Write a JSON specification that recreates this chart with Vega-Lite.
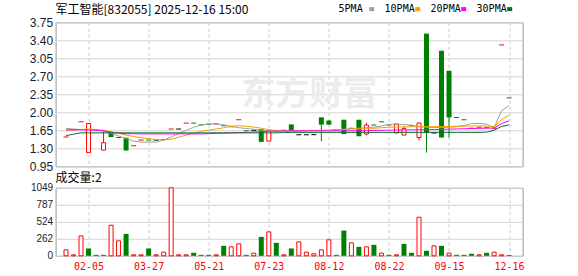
{
  "$schema": "https://vega.github.io/schema/vega-lite/v6.json",
  "background": "white",
  "padding": {"left": 28.6, "top": 3.3, "right": 0, "bottom": 0},
  "bounds": "flush",
  "spacing": 21.5,
  "config": {
    "view": {"stroke": "#999999", "strokeWidth": 1},
    "axis": {"minExtent": 0, "ticks": false, "domain": false, "gridColor": "#d3d3d3", "gridWidth": 1, "labelPadding": 3, "labelFlush": false, "labelOverlap": false},
    "title": {"font": "Noto Sans CJK SC", "fontSize": 12, "fontWeight": "normal", "color": "#000000", "anchor": "start", "frame": "group"}
  },
  "datasets": {
    "wm": [{"i": 32.4, "p": 2.34, "t": "东方财富"}],
    "k": [
      {"i":0,"t":"fr","o":1.52,"c":1.52,"h":1.52,"l":1.52,"v":92,"vt":"up","5PMA":1.69,"10PMA":1.65,"20PMA":1.66,"30PMA":1.545},
      {"i":1,"t":"fr","o":1.66,"c":1.66,"h":1.66,"l":1.66,"v":15,"vt":"up","5PMA":1.675,"10PMA":1.657,"20PMA":1.66,"30PMA":1.575},
      {"i":2,"t":"fr","o":1.815,"c":1.815,"h":1.815,"l":1.815,"v":307,"vt":"up","5PMA":1.665,"10PMA":1.665,"20PMA":1.66,"30PMA":1.6},
      {"i":3,"t":"up","o":1.215,"c":1.783,"h":1.783,"l":1.215,"v":113,"vt":"dn","5PMA":1.66,"10PMA":1.673,"20PMA":1.656,"30PMA":1.6},
      {"i":4,"t":"fg","o":1.65,"c":1.65,"h":1.65,"l":1.65,"v":15,"vt":"dn","5PMA":1.655,"10PMA":1.668,"20PMA":1.65,"30PMA":1.6},
      {"i":5,"t":"up","o":1.265,"c":1.408,"h":1.634,"l":1.265,"v":15,"vt":"dn","5PMA":1.635,"10PMA":1.652,"20PMA":1.642,"30PMA":1.6},
      {"i":6,"t":"dn","o":1.608,"c":1.518,"h":1.608,"l":1.518,"v":471,"vt":"up","5PMA":1.59,"10PMA":1.625,"20PMA":1.612,"30PMA":1.6},
      {"i":7,"t":"fr","o":1.511,"c":1.511,"h":1.511,"l":1.511,"v":230,"vt":"up","5PMA":1.54,"10PMA":1.59,"20PMA":1.595,"30PMA":1.6},
      {"i":8,"t":"dn","o":1.505,"c":1.258,"h":1.505,"l":1.258,"v":338,"vt":"dn","5PMA":1.49,"10PMA":1.556,"20PMA":1.585,"30PMA":1.6},
      {"i":9,"t":"fr","o":1.35,"c":1.35,"h":1.35,"l":1.35,"v":15,"vt":"up","5PMA":1.44,"10PMA":1.53,"20PMA":1.582,"30PMA":1.6},
      {"i":10,"t":"fr","o":1.46,"c":1.46,"h":1.46,"l":1.46,"v":15,"vt":"up","5PMA":1.42,"10PMA":1.505,"20PMA":1.58,"30PMA":1.6},
      {"i":11,"t":"fg","o":1.46,"c":1.46,"h":1.46,"l":1.46,"v":113,"vt":"dn","5PMA":1.42,"10PMA":1.488,"20PMA":1.58,"30PMA":1.6},
      {"i":12,"t":"fk","o":1.46,"c":1.46,"h":1.46,"l":1.46,"v":15,"vt":"up","5PMA":1.42,"10PMA":1.472,"20PMA":1.58,"30PMA":1.6},
      {"i":13,"t":"fr","o":1.47,"c":1.47,"h":1.47,"l":1.47,"v":56,"vt":"up","5PMA":1.46,"10PMA":1.462,"20PMA":1.58,"30PMA":1.6},
      {"i":14,"t":"fr","o":1.675,"c":1.675,"h":1.675,"l":1.675,"v":1049,"vt":"up","5PMA":1.52,"10PMA":1.478,"20PMA":1.58,"30PMA":1.6},
      {"i":15,"t":"fk","o":1.675,"c":1.675,"h":1.675,"l":1.675,"v":15,"vt":"up","5PMA":1.59,"10PMA":1.515,"20PMA":1.58,"30PMA":1.6},
      {"i":16,"t":"fr","o":1.79,"c":1.79,"h":1.79,"l":1.79,"v":15,"vt":"up","5PMA":1.65,"10PMA":1.555,"20PMA":1.58,"30PMA":1.6},
      {"i":17,"t":"fg","o":1.79,"c":1.79,"h":1.79,"l":1.79,"v":46,"vt":"dn","5PMA":1.71,"10PMA":1.595,"20PMA":1.58,"30PMA":1.6},
      {"i":18,"t":"fg","o":1.755,"c":1.755,"h":1.755,"l":1.755,"v":15,"vt":"dn","5PMA":1.75,"10PMA":1.63,"20PMA":1.58,"30PMA":1.6},
      {"i":19,"t":"fg","o":1.77,"c":1.77,"h":1.77,"l":1.77,"v":15,"vt":"dn","5PMA":1.775,"10PMA":1.655,"20PMA":1.584,"30PMA":1.6},
      {"i":20,"t":"fr","o":1.775,"c":1.775,"h":1.775,"l":1.775,"v":15,"vt":"up","5PMA":1.775,"10PMA":1.675,"20PMA":1.59,"30PMA":1.6},
      {"i":21,"t":"fg","o":1.74,"c":1.74,"h":1.74,"l":1.74,"v":154,"vt":"dn","5PMA":1.755,"10PMA":1.7,"20PMA":1.595,"30PMA":1.6},
      {"i":22,"t":"fr","o":1.72,"c":1.72,"h":1.72,"l":1.72,"v":138,"vt":"up","5PMA":1.725,"10PMA":1.728,"20PMA":1.6,"30PMA":1.6},
      {"i":23,"t":"fr","o":1.855,"c":1.855,"h":1.855,"l":1.855,"v":184,"vt":"up","5PMA":1.7,"10PMA":1.738,"20PMA":1.605,"30PMA":1.6},
      {"i":24,"t":"fg","o":1.64,"c":1.64,"h":1.64,"l":1.64,"v":15,"vt":"dn","5PMA":1.685,"10PMA":1.73,"20PMA":1.61,"30PMA":1.6},
      {"i":25,"t":"fk","o":1.65,"c":1.65,"h":1.65,"l":1.65,"v":41,"vt":"up","5PMA":1.67,"10PMA":1.712,"20PMA":1.618,"30PMA":1.6},
      {"i":26,"t":"dn","o":1.668,"c":1.425,"h":1.668,"l":1.425,"v":292,"vt":"dn","5PMA":1.655,"10PMA":1.69,"20PMA":1.624,"30PMA":1.6},
      {"i":27,"t":"up","o":1.44,"c":1.645,"h":1.645,"l":1.44,"v":369,"vt":"up","5PMA":1.64,"10PMA":1.662,"20PMA":1.63,"30PMA":1.6},
      {"i":28,"t":"fg","o":1.63,"c":1.63,"h":1.63,"l":1.63,"v":200,"vt":"dn","5PMA":1.635,"10PMA":1.645,"20PMA":1.635,"30PMA":1.6},
      {"i":29,"t":"fr","o":1.65,"c":1.65,"h":1.65,"l":1.65,"v":15,"vt":"up","5PMA":1.635,"10PMA":1.636,"20PMA":1.638,"30PMA":1.605},
      {"i":30,"t":"dn","o":1.764,"c":1.647,"h":1.764,"l":1.647,"v":113,"vt":"dn","5PMA":1.635,"10PMA":1.636,"20PMA":1.64,"30PMA":1.61},
      {"i":31,"t":"fk","o":1.563,"c":1.563,"h":1.563,"l":1.563,"v":215,"vt":"up","5PMA":1.635,"10PMA":1.64,"20PMA":1.64,"30PMA":1.61},
      {"i":32,"t":"fk","o":1.563,"c":1.563,"h":1.563,"l":1.563,"v":56,"vt":"up","5PMA":1.64,"10PMA":1.645,"20PMA":1.64,"30PMA":1.61},
      {"i":33,"t":"fk","o":1.565,"c":1.565,"h":1.565,"l":1.565,"v":31,"vt":"up","5PMA":1.64,"10PMA":1.648,"20PMA":1.64,"30PMA":1.61},
      {"i":34,"t":"dn","o":1.9,"c":1.76,"h":1.9,"l":1.432,"v":92,"vt":"up","5PMA":1.645,"10PMA":1.65,"20PMA":1.64,"30PMA":1.61},
      {"i":35,"t":"dn","o":1.84,"c":1.76,"h":1.84,"l":1.76,"v":246,"vt":"up","5PMA":1.65,"10PMA":1.653,"20PMA":1.64,"30PMA":1.61},
      {"i":36,"t":"fg","o":1.66,"c":1.66,"h":1.66,"l":1.66,"v":15,"vt":"dn","5PMA":1.66,"10PMA":1.656,"20PMA":1.64,"30PMA":1.61},
      {"i":37,"t":"dn","o":1.855,"c":1.576,"h":1.855,"l":1.576,"v":389,"vt":"dn","5PMA":1.67,"10PMA":1.665,"20PMA":1.64,"30PMA":1.61},
      {"i":38,"t":"fr","o":1.69,"c":1.69,"h":1.69,"l":1.69,"v":200,"vt":"up","5PMA":1.68,"10PMA":1.675,"20PMA":1.64,"30PMA":1.61},
      {"i":39,"t":"dn","o":1.855,"c":1.535,"h":1.855,"l":1.535,"v":138,"vt":"dn","5PMA":1.69,"10PMA":1.68,"20PMA":1.642,"30PMA":1.61},
      {"i":40,"t":"up","o":1.578,"c":1.752,"h":1.797,"l":1.552,"v":138,"vt":"up","5PMA":1.7,"10PMA":1.686,"20PMA":1.645,"30PMA":1.61},
      {"i":41,"t":"fg","o":1.753,"c":1.753,"h":1.753,"l":1.753,"v":169,"vt":"dn","5PMA":1.71,"10PMA":1.69,"20PMA":1.648,"30PMA":1.61},
      {"i":42,"t":"fg","o":1.815,"c":1.815,"h":1.815,"l":1.815,"v":41,"vt":"up","5PMA":1.735,"10PMA":1.7,"20PMA":1.65,"30PMA":1.61},
      {"i":43,"t":"fg","o":1.755,"c":1.755,"h":1.755,"l":1.755,"v":15,"vt":"dn","5PMA":1.765,"10PMA":1.71,"20PMA":1.653,"30PMA":1.61},
      {"i":44,"t":"up","o":1.598,"c":1.772,"h":1.772,"l":1.598,"v":15,"vt":"up","5PMA":1.77,"10PMA":1.715,"20PMA":1.655,"30PMA":1.61},
      {"i":45,"t":"up","o":1.557,"c":1.682,"h":1.72,"l":1.557,"v":184,"vt":"dn","5PMA":1.76,"10PMA":1.717,"20PMA":1.657,"30PMA":1.61},
      {"i":46,"t":"fg","o":1.74,"c":1.74,"h":1.74,"l":1.74,"v":46,"vt":"dn","5PMA":1.75,"10PMA":1.718,"20PMA":1.659,"30PMA":1.61},
      {"i":47,"t":"up","o":1.51,"c":1.792,"h":1.792,"l":1.455,"v":594,"vt":"up","5PMA":1.725,"10PMA":1.719,"20PMA":1.66,"30PMA":1.61},
      {"i":48,"t":"dn","o":3.53,"c":1.607,"h":3.53,"l":1.218,"v":77,"vt":"dn","5PMA":1.71,"10PMA":1.72,"20PMA":1.662,"30PMA":1.61},
      {"i":49,"t":"fk","o":1.598,"c":1.598,"h":1.598,"l":1.598,"v":154,"vt":"up","5PMA":1.705,"10PMA":1.72,"20PMA":1.665,"30PMA":1.61},
      {"i":50,"t":"dn","o":3.196,"c":1.51,"h":3.196,"l":1.51,"v":154,"vt":"dn","5PMA":1.705,"10PMA":1.722,"20PMA":1.668,"30PMA":1.61},
      {"i":51,"t":"dn","o":2.807,"c":1.899,"h":2.807,"l":1.51,"v":41,"vt":"up","5PMA":1.71,"10PMA":1.725,"20PMA":1.672,"30PMA":1.61},
      {"i":52,"t":"fg","o":1.9,"c":1.9,"h":1.9,"l":1.9,"v":15,"vt":"dn","5PMA":1.72,"10PMA":1.728,"20PMA":1.676,"30PMA":1.61},
      {"i":53,"t":"fg","o":1.855,"c":1.855,"h":1.855,"l":1.855,"v":15,"vt":"dn","5PMA":1.745,"10PMA":1.73,"20PMA":1.68,"30PMA":1.61},
      {"i":54,"t":"fg","o":1.69,"c":1.69,"h":1.69,"l":1.69,"v":31,"vt":"dn","5PMA":1.78,"10PMA":1.733,"20PMA":1.684,"30PMA":1.61},
      {"i":55,"t":"fr","o":1.71,"c":1.71,"h":1.71,"l":1.71,"v":15,"vt":"up","5PMA":1.785,"10PMA":1.735,"20PMA":1.688,"30PMA":1.61},
      {"i":56,"t":"fg","o":1.7,"c":1.7,"h":1.7,"l":1.7,"v":46,"vt":"dn","5PMA":1.77,"10PMA":1.735,"20PMA":1.692,"30PMA":1.615},
      {"i":57,"t":"fr","o":1.69,"c":1.69,"h":1.69,"l":1.69,"v":56,"vt":"up","5PMA":1.7,"10PMA":1.72,"20PMA":1.695,"30PMA":1.65},
      {"i":58,"t":"fr","o":3.31,"c":3.31,"h":3.31,"l":3.31,"v":15,"vt":"up","5PMA":2.03,"10PMA":1.86,"20PMA":1.78,"30PMA":1.725},
      {"i":59,"t":"fg","o":2.28,"c":2.28,"h":2.28,"l":2.28,"v":12,"vt":"dn","5PMA":2.13,"10PMA":1.945,"20PMA":1.835,"30PMA":1.755}
    ]
  },
  "vconcat": [
    {
      "width": 467,
      "height": 144,
      "title": {"text": "军工智能[832055] 2025-12-16 15:00", "offset": -1},
      "encoding": {
        "x": {"field": "i", "type": "quantitative", "scale": {"domain": [-0.72, 60.13], "nice": false, "zero": false},
              "axis": {"title": null, "values": [3, 11, 19, 27, 35, 43, 51, 59], "labels": false, "grid": true, "gridDash": [3, 3], "gridColor": "#c8c8c8"}}
      },
      "layer": [
        {
          "data": {"name": "wm"},
          "mark": {"type": "text", "font": "Noto Sans CJK SC", "fontWeight": "bold", "fontSize": 34, "color": "#ececec", "baseline": "middle", "align": "center"},
          "encoding": {
            "y": {"field": "p", "type": "quantitative", "scale": {"domain": [0.95, 3.75], "nice": false, "zero": false},
                  "axis": {"title": null, "values": [0.95, 1.3, 1.65, 2, 2.35, 2.7, 3.05, 3.4, 3.75], "format": ".2f", "labelFont": "Liberation Sans", "labelFontSize": 12, "labelColor": "#1a1a2a", "grid": true}},
            "text": {"field": "t"}
          }
        },
        {
          "data": {"name": "k"},
          "transform": [{"filter": "datum.t == 'up'"}],
          "mark": {"type": "rule", "color": "#ff0000", "strokeWidth": 1},
          "encoding": {"y": {"field": "l", "type": "quantitative", "axis": {"title": null, "values": [0.95, 1.3, 1.65, 2, 2.35, 2.7, 3.05, 3.4, 3.75], "format": ".2f", "labelFont": "Liberation Sans", "labelFontSize": 12, "labelColor": "#1a1a2a", "grid": true}}, "y2": {"field": "h"}}
        },
        {
          "data": {"name": "k"},
          "transform": [{"filter": "datum.t == 'dn'"}],
          "mark": {"type": "rule", "color": "#008000", "strokeWidth": 1},
          "encoding": {"y": {"field": "l", "type": "quantitative", "axis": {"title": null, "values": [0.95, 1.3, 1.65, 2, 2.35, 2.7, 3.05, 3.4, 3.75], "format": ".2f", "labelFont": "Liberation Sans", "labelFontSize": 12, "labelColor": "#1a1a2a", "grid": true}}, "y2": {"field": "h"}}
        },
        {
          "data": {"name": "k"},
          "transform": [{"filter": "datum.t == 'up'"}],
          "mark": {"type": "bar", "orient": "vertical", "width": 4, "fill": "#ffffff", "stroke": "#ff0000", "strokeWidth": 1},
          "encoding": {"y": {"field": "o", "type": "quantitative", "axis": {"title": null, "values": [0.95, 1.3, 1.65, 2, 2.35, 2.7, 3.05, 3.4, 3.75], "format": ".2f", "labelFont": "Liberation Sans", "labelFontSize": 12, "labelColor": "#1a1a2a", "grid": true}}, "y2": {"field": "c"}}
        },
        {
          "data": {"name": "k"},
          "transform": [{"filter": "datum.t == 'dn'"}],
          "mark": {"type": "bar", "orient": "vertical", "width": 5, "fill": "#008000"},
          "encoding": {"y": {"field": "o", "type": "quantitative", "axis": {"title": null, "values": [0.95, 1.3, 1.65, 2, 2.35, 2.7, 3.05, 3.4, 3.75], "format": ".2f", "labelFont": "Liberation Sans", "labelFontSize": 12, "labelColor": "#1a1a2a", "grid": true}}, "y2": {"field": "c"}}
        },
        {
          "data": {"name": "k"},
          "transform": [{"filter": "datum.t == 'fr'"}],
          "mark": {"type": "tick", "orient": "horizontal", "size": 5, "thickness": 1, "color": "#ff0000", "opacity": 1},
          "encoding": {"y": {"field": "c", "type": "quantitative", "axis": {"title": null, "values": [0.95, 1.3, 1.65, 2, 2.35, 2.7, 3.05, 3.4, 3.75], "format": ".2f", "labelFont": "Liberation Sans", "labelFontSize": 12, "labelColor": "#1a1a2a", "grid": true}}}
        },
        {
          "data": {"name": "k"},
          "transform": [{"filter": "datum.t == 'fg'"}],
          "mark": {"type": "tick", "orient": "horizontal", "size": 5, "thickness": 1, "color": "#008000", "opacity": 1},
          "encoding": {"y": {"field": "c", "type": "quantitative", "axis": {"title": null, "values": [0.95, 1.3, 1.65, 2, 2.35, 2.7, 3.05, 3.4, 3.75], "format": ".2f", "labelFont": "Liberation Sans", "labelFontSize": 12, "labelColor": "#1a1a2a", "grid": true}}}
        },
        {
          "data": {"name": "k"},
          "transform": [{"filter": "datum.t == 'fk'"}],
          "mark": {"type": "tick", "orient": "horizontal", "size": 5, "thickness": 1, "color": "#000000", "opacity": 1},
          "encoding": {"y": {"field": "c", "type": "quantitative", "axis": {"title": null, "values": [0.95, 1.3, 1.65, 2, 2.35, 2.7, 3.05, 3.4, 3.75], "format": ".2f", "labelFont": "Liberation Sans", "labelFontSize": 12, "labelColor": "#1a1a2a", "grid": true}}}
        },
        {
          "data": {"name": "k"},
          "transform": [{"fold": ["5PMA", "10PMA", "20PMA", "30PMA"], "as": ["m", "p"]}],
          "mark": {"type": "line", "strokeWidth": 1},
          "encoding": {
            "y": {"field": "p", "type": "quantitative", "axis": {"title": null, "values": [0.95, 1.3, 1.65, 2, 2.35, 2.7, 3.05, 3.4, 3.75], "format": ".2f", "labelFont": "Liberation Sans", "labelFontSize": 12, "labelColor": "#1a1a2a", "grid": true}},
            "color": {"field": "m", "type": "nominal",
                      "scale": {"domain": ["5PMA", "10PMA", "20PMA", "30PMA"], "range": ["#a0a0a0", "#f0a000", "#ff00ff", "#00702a"]},
                      "legend": {"orient": "none", "legendX": 281, "legendY": -18.2, "direction": "horizontal", "title": null,
                                 "symbolType": "M 13.8 0 H 16.3", "symbolSize": 16, "symbolStrokeWidth": 4,
                                 "labelFont": "DejaVu Sans Mono", "labelFontSize": 10, "labelColor": "#000000",
                                 "labelOffset": -8, "columnPadding": -2.5, "padding": 0}}
          }
        }
      ]
    },
    {
      "width": 467,
      "height": 68,
      "title": {"text": "成交量:2", "offset": -2.5},
      "data": {"name": "k"},
      "encoding": {
        "x": {"field": "i", "type": "quantitative", "scale": {"domain": [-0.72, 60.13], "nice": false, "zero": false},
              "axis": {"title": null, "values": [3, 11, 19, 27, 35, 43, 51, 59],
                       "labelExpr": "['02-05','03-27','05-21','07-23','08-12','08-22','09-15','12-16'][round((datum.value-3)/8)]",
                       "labelColor": "#ff0000", "labelFont": "DejaVu Sans Mono", "labelFontSize": 10, "labelPadding": 6,
                       "grid": true, "gridDash": [3, 3], "gridColor": "#c8c8c8"}},
        "y": {"field": "v", "type": "quantitative", "scale": {"domain": [0, 1049], "nice": false},
              "axis": {"title": null, "values": [0, 262, 524, 787, 1049], "format": "d", "labelFont": "Liberation Sans", "labelFontSize": 10, "labelColor": "#1a1a2a", "grid": true}}
      },
      "layer": [
        {
          "transform": [{"filter": "datum.vt == 'up'"}],
          "mark": {"type": "bar", "orient": "vertical", "width": 4, "fill": "#ffffff", "stroke": "#ff0000", "strokeWidth": 1}
        },
        {
          "transform": [{"filter": "datum.vt == 'dn'"}],
          "mark": {"type": "bar", "orient": "vertical", "width": 5, "fill": "#008000"}
        }
      ]
    }
  ]
}
